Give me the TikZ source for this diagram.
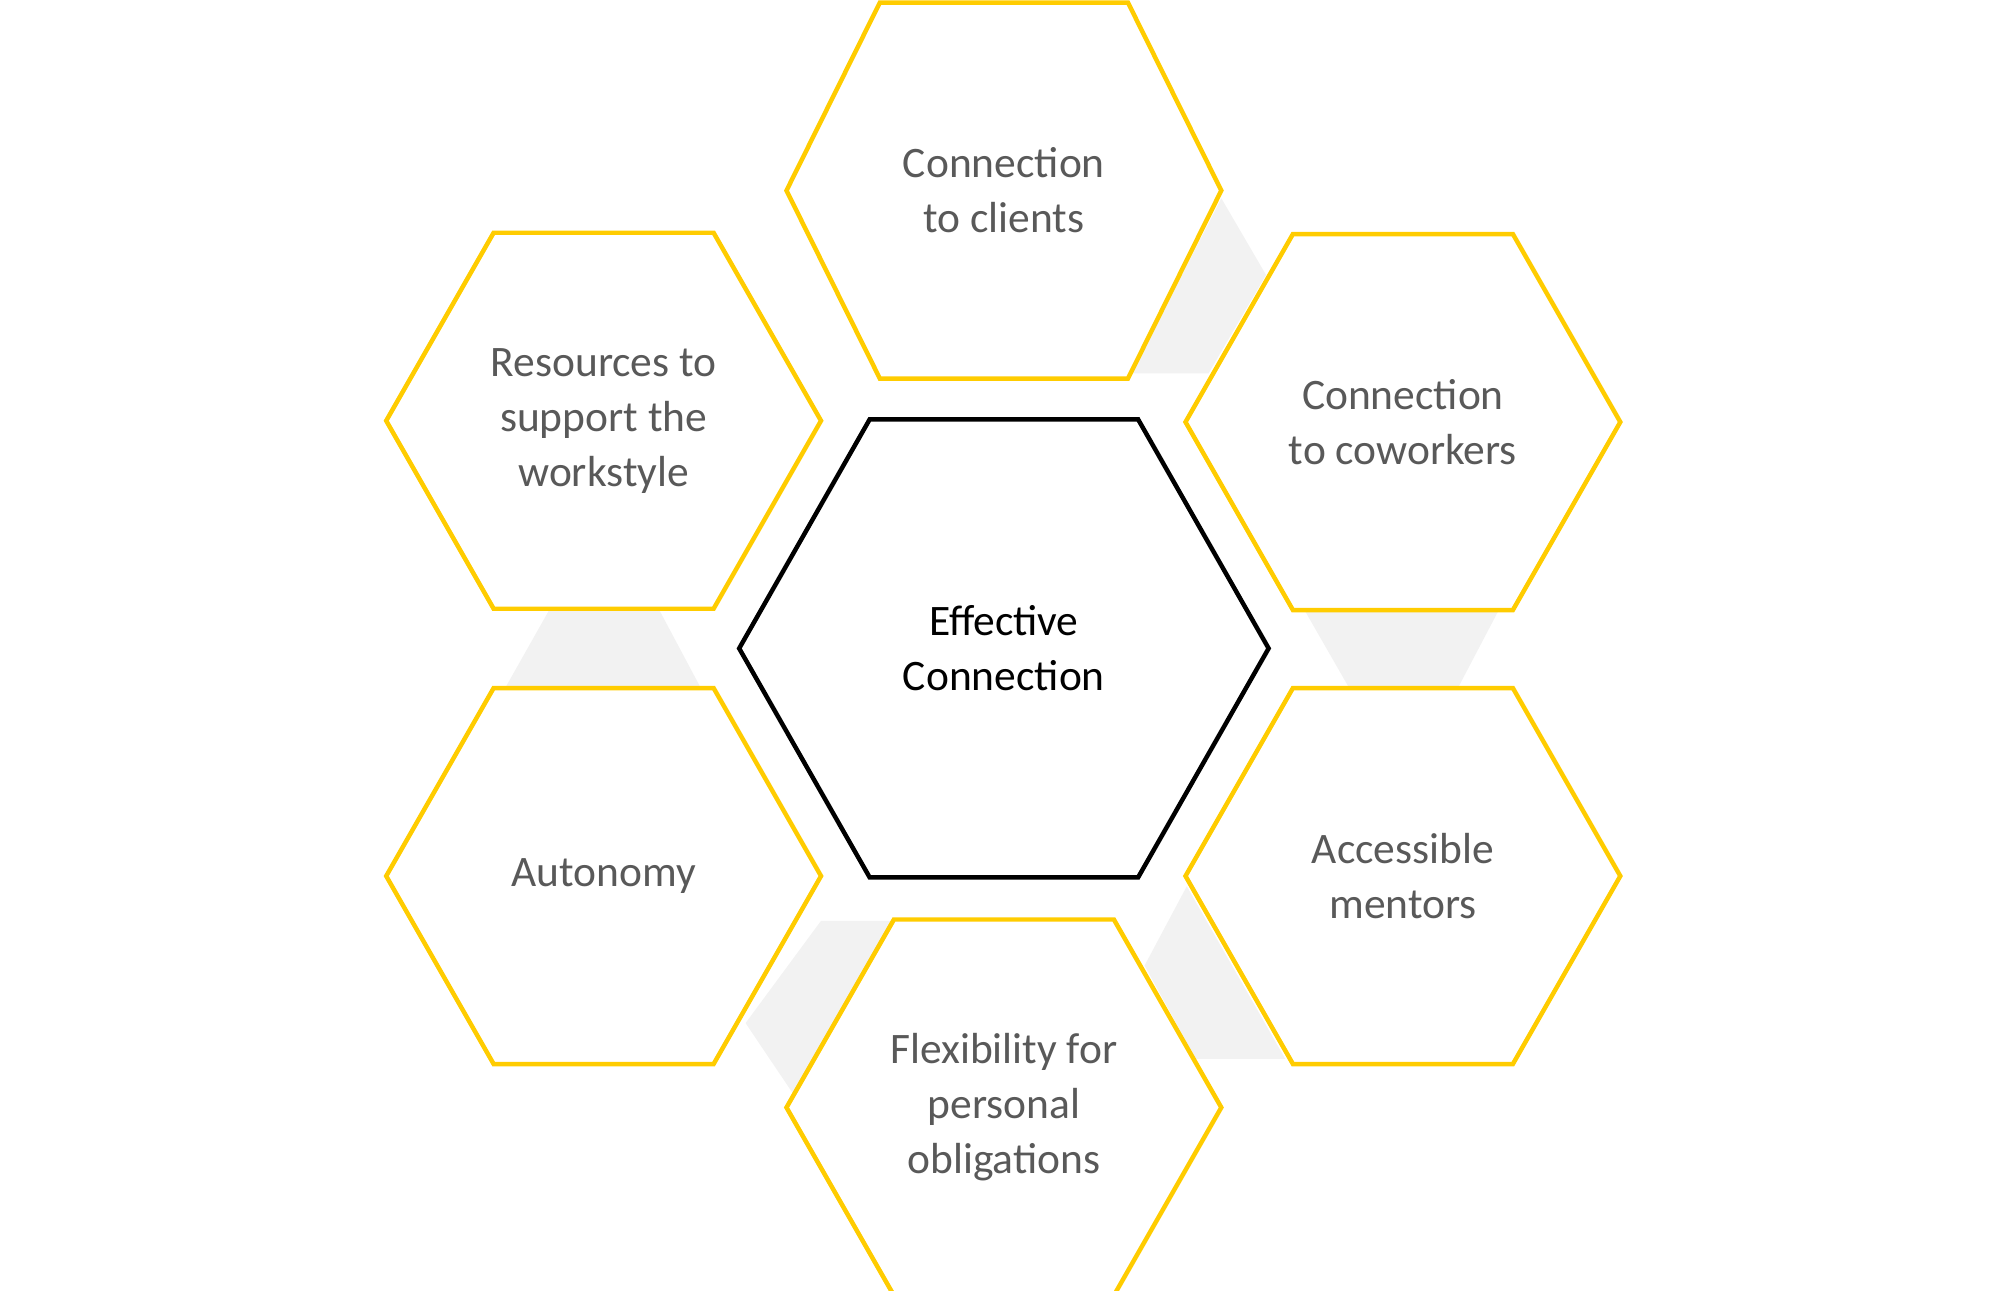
\documentclass[tikz,border=0pt]{standalone}
\usepackage{fontspec}
\setmainfont{Carlito}
\definecolor{hexy}{HTML}{FFCC00}
\definecolor{txt}{HTML}{595959}
\definecolor{bridge}{HTML}{F2F2F2}
\newcommand\myhex[6]{\draw[#6] (#1-#3,#2) -- (#1-#5,#2-#4) -- (#1+#5,#2-#4) -- (#1+#3,#2) -- (#1+#5,#2+#4) -- (#1-#5,#2+#4) -- cycle;}
\tikzset{lbl/.style={text=txt,align=center,font=\fontsize{34}{43}\selectfont},
 yhex/.style={draw=hexy,line width=3.5pt,fill=white},
 bhex/.style={draw=black,line width=3.5pt,fill=white}}
\begin{document}
\begin{tikzpicture}[x=1pt,y=-1pt]
\useasboundingbox (0,0) rectangle (1560,1009);
% gray bridges
\fill[bridge] (955,155) -- (990,215) -- (945,292) -- (885,292) -- cycle;
\fill[bridge] (430,476) -- (515,476) -- (548,538) -- (395,538) -- cycle;
\fill[bridge] (1020,477) -- (1172,477) -- (1140,538) -- (1055,538) -- cycle;
\fill[bridge] (928,693) -- (1005,828) -- (935,828) -- (895,755) -- cycle;
\fill[bridge] (642,720) -- (697,720) -- (620,855) -- (583,800) -- cycle;
% hexagons
\myhex{785}{149}{170}{147}{97}{yhex}
\myhex{472}{329}{170}{147}{86}{yhex}
\myhex{1097}{330}{170}{147}{86}{yhex}
\myhex{472}{685}{170}{147}{86}{yhex}
\myhex{1097}{685}{170}{147}{86}{yhex}
\myhex{785}{866}{170}{147}{86}{yhex}
\myhex{785}{507}{207}{179}{105}{bhex}
% labels
\node[lbl] (clients) at (785,149) {Connection\\to clients};
\node[lbl] (res) at (472,329) {Resources to\\support the\\workstyle};
\node[lbl] (cow) at (1097,330) {Connection\\to coworkers};
\node[lbl] (aut) at (472,685) {Autonomy};
\node[lbl] (ment) at (1097,685) {Accessible\\mentors};
\node[lbl] (flex) at (785,866) {Flexibility for\\personal\\obligations};
\node[lbl,text=black] (eff) at (785,507) {Effective\\Connection};
\end{tikzpicture}
\end{document}
